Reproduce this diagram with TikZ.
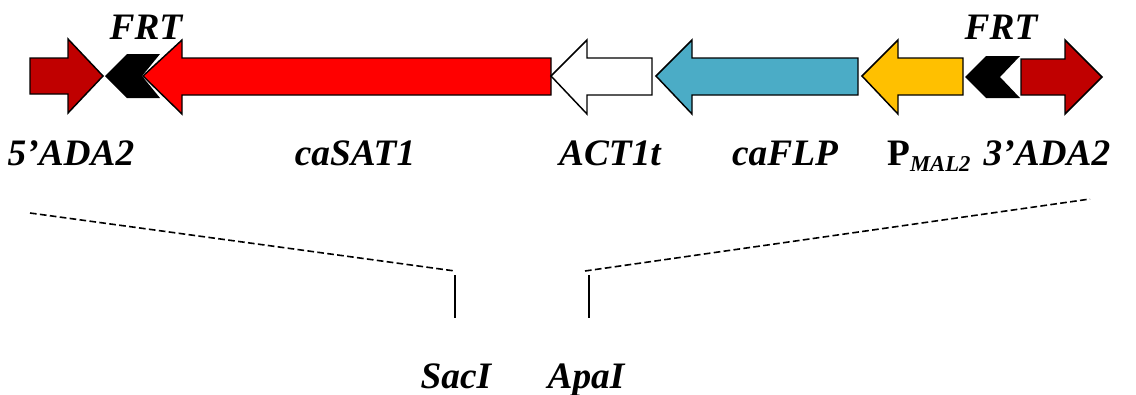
\documentclass[tikz,border=0pt]{standalone}
\usepackage{fontspec}
\setmainfont{Liberation Serif}
\begin{document}
\begin{tikzpicture}[x=0.75pt,y=-0.75pt,
  gene/.style={draw=black,line width=1.1pt,line join=miter},
  lbl/.style={font=\fontsize{28}{30}\selectfont\bfseries\itshape,inner sep=0pt,anchor=base},
  site/.style={line width=1.2pt},
  cut/.style={line width=1.2pt,dash pattern=on 5pt off 2.5pt}]
\useasboundingbox (0,0) rectangle (1136,394);
% 5'ADA2 (right pointing)
\draw[gene,fill={rgb,255:red,192;green,0;blue,0}] (30,58) -- (68,58) -- (68,39) -- (103,76) -- (68,113) -- (68,94) -- (30,94) -- cycle;
% FRT left chevron
\fill[black] (105,76) -- (127,54) -- (160,54) -- (142,76) -- (160,98) -- (127,98) -- cycle;
% caSAT1
\draw[gene,fill={rgb,255:red,255;green,0;blue,0}] (143,76) -- (182,40) -- (182,58) -- (551,58) -- (551,95) -- (182,95) -- (182,114) -- cycle;
% ACT1t
\draw[gene,fill=white] (551,76) -- (587,40) -- (587,58) -- (652,58) -- (652,95) -- (587,95) -- (587,114) -- cycle;
% caFLP
\draw[gene,fill={rgb,255:red,75;green,172;blue,198}] (656,76) -- (692,40) -- (692,58) -- (858,58) -- (858,95) -- (692,95) -- (692,114) -- cycle;
% P_MAL2
\draw[gene,fill={rgb,255:red,255;green,192;blue,0}] (862,76) -- (898,40) -- (898,58) -- (963,58) -- (963,95) -- (898,95) -- (898,114) -- cycle;
% FRT right chevron
\fill[black] (965,77) -- (986,56) -- (1020,56) -- (1000,77) -- (1020,98) -- (986,98) -- cycle;
% 3'ADA2 (right pointing)
\draw[gene,fill={rgb,255:red,192;green,0;blue,0}] (1021,59) -- (1065,59) -- (1065,40) -- (1102,77) -- (1065,114) -- (1065,95) -- (1021,95) -- cycle;
% labels
\node[lbl] (frtL) at (146,39) {FRT};
\node[lbl] (frtR) at (1001,39) {FRT};
\node[lbl] (ada5) at (71,165) {5’ADA2};
\node[lbl] (sat) at (355,165) {caSAT1};
\node[lbl] (act) at (610,165) {ACT1t};
\node[lbl] (flp) at (785,165) {caFLP};
\node[lbl,anchor=base west] (pmal) at (887,165) {\upshape P\raisebox{-0.35ex}{\fontsize{17}{18}\selectfont\itshape MAL2}};
\node[lbl] (ada3) at (1047,165) {3’ADA2};
\node[lbl] (sac) at (456,388) {SacI};
\node[lbl] (apa) at (586,388) {ApaI};
% restriction sites
\coordinate (l0) at (30,213);
\coordinate (l1) at (455,271);
\coordinate (r0) at (1090,199);
\coordinate (r1) at (585,271);
\coordinate (s0) at (455,275);
\coordinate (s1) at (455,318);
\coordinate (a0) at (589,275);
\coordinate (a1) at (589,318);
\draw[cut] (l0) -- (l1);
\draw[cut] (r1) -- (r0);
\draw[site] (s0) -- (s1);
\draw[site] (a0) -- (a1);
\end{tikzpicture}
\end{document}
